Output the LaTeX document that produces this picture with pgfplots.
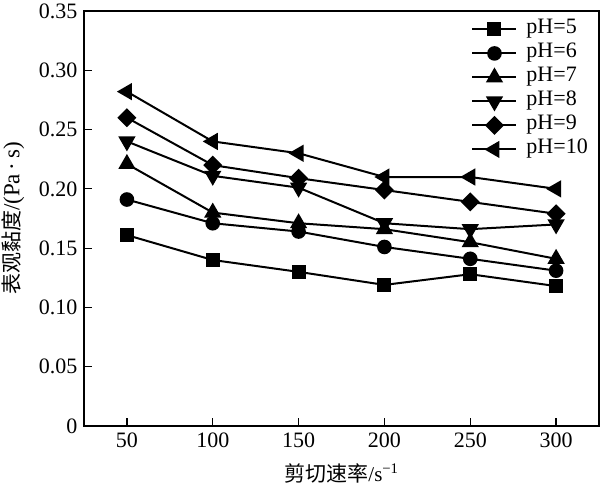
\documentclass[border=0pt]{standalone}
\usepackage{fontspec}
\setmainfont{Liberation Serif}
\newfontfamily\cjk{Noto Sans CJK SC}
\usepackage{pgfplots}
\pgfplotsset{compat=1.18}
\begin{document}
\begin{tikzpicture}
\path[use as bounding box] (-84pt,-64pt) rectangle (517pt,426pt);
\begin{axis}[
  at={(0,0)}, anchor=south west,
  scale only axis, width=515pt, height=415pt,
  xmin=25, xmax=325, ymin=0, ymax=0.35,
  xtick={50,100,150,200,250,300},
  ytick={0,0.05,0.10,0.15,0.20,0.25,0.30,0.35},
  yticklabels={0,0.05,0.10,0.15,0.20,0.25,0.30,0.35},
  xticklabels={50,100,150,200,250,300},
  xtick pos=bottom, ytick pos=left,
  tick align=inside,
  major tick length=8pt,
  axis line style={line width=1.2pt},
  tick style={line width=1.2pt, black},
  every tick label/.append style={font=\fontsize{22}{24}\selectfont},
  xticklabel style={yshift=-3pt},
  yticklabel style={xshift=-3pt},
  xlabel={{\cjk 剪切速率}/s\textsuperscript{−1}},
  ylabel={{\cjk 表观黏度}{\fontsize{23}{24}\selectfont/(Pa\,·\,s)}},
  label style={font=\fontsize{21}{24}\selectfont},
  xlabel style={at={(axis description cs:0.5,0)}, anchor=center, yshift=-47pt},
  ylabel style={at={(axis description cs:0,0.5)}, anchor=center, yshift=71pt},
  legend style={at={(axis description cs:0.752,0.985)}, anchor=north west,
    draw=none, fill=none, inner sep=0pt, row sep=0pt, column sep=7pt,
    font=\fontsize{22}{24}\selectfont,
    nodes={inner sep=2pt, text height=14pt, text depth=6pt}},
  legend cell align=left,
  legend image code/.code={\draw[mark repeat=2,mark phase=2,#1] plot coordinates {(0pt,0pt) (22pt,0pt) (44pt,0pt)};},
  every axis plot/.append style={black, line width=2pt, mark options={solid, fill=black}},
]
\addplot[mark=square*, mark size=6pt] coordinates {(50,0.161) (100,0.140) (150,0.130) (200,0.119) (250,0.128) (300,0.118)};
\addlegendentry{pH=5}
\addplot[mark=*, mark size=6.3pt] coordinates {(50,0.191) (100,0.171) (150,0.164) (200,0.151) (250,0.141) (300,0.131)};
\addlegendentry{pH=6}
\addplot[mark=triangle*, mark size=8pt] coordinates {(50,0.221) (100,0.180) (150,0.171) (200,0.166) (250,0.155) (300,0.141)};
\addlegendentry{pH=7}
\addplot[mark=triangle*, mark size=8pt, mark options={rotate=180}] coordinates {(50,0.240) (100,0.211) (150,0.201) (200,0.171) (250,0.166) (300,0.170)};
\addlegendentry{pH=8}
\addplot[mark=square*, mark size=5.7pt, mark options={rotate=45}] coordinates {(50,0.260) (100,0.220) (150,0.209) (200,0.199) (250,0.189) (300,0.179)};
\addlegendentry{pH=9}
\addplot[mark=triangle*, mark size=8pt, mark options={rotate=90}] coordinates {(50,0.282) (100,0.240) (150,0.230) (200,0.210) (250,0.210) (300,0.200)};
\addlegendentry{pH=10}
\end{axis}
\end{tikzpicture}
\end{document}
